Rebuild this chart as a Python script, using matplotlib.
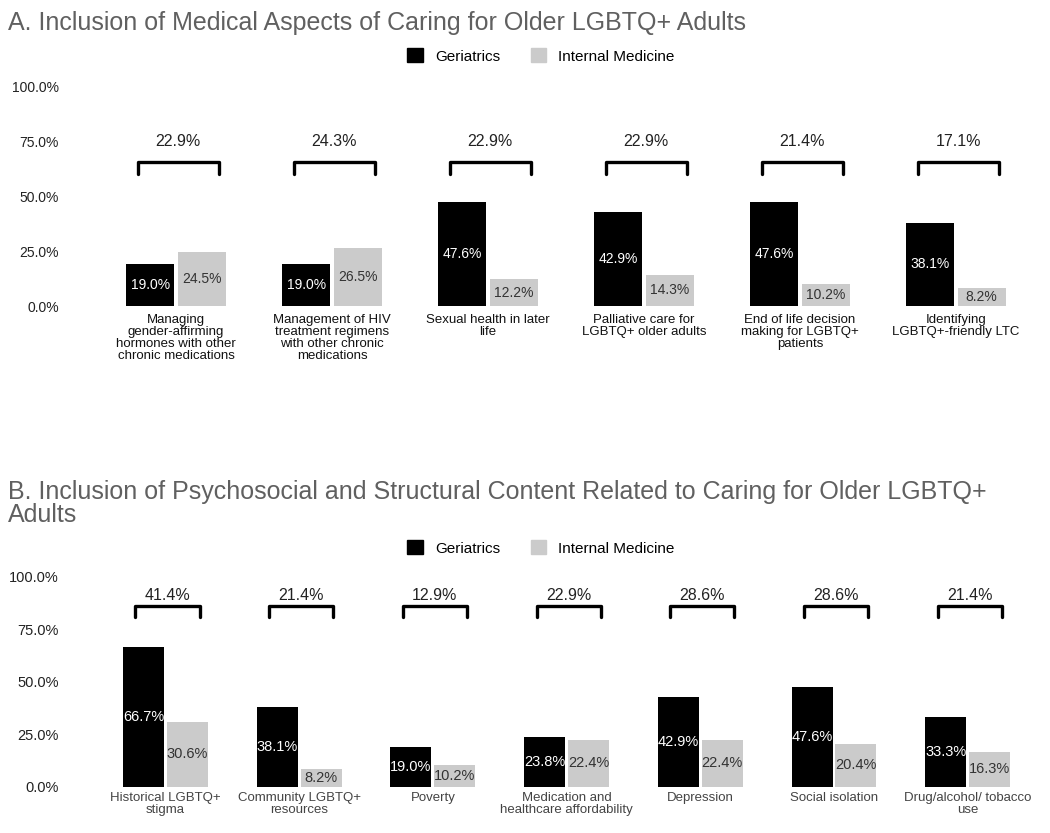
import matplotlib
matplotlib.use("Agg")
import matplotlib.pyplot as plt
from matplotlib.patches import Patch

plt.rcParams['font.family'] = ['Liberation Sans', 'DejaVu Sans']

# panel A data
cats_a = ["Managing\ngender-affirming\nhormones with other\nchronic medications",
          "Management of HIV\ntreatment regimens\nwith other chronic\nmedications",
          "Sexual health in later\nlife",
          "Palliative care for\nLGBTQ+ older adults",
          "End of life decision\nmaking for LGBTQ+\npatients",
          "Identifying\nLGBTQ+-friendly LTC"]
ger_a = [19.0, 19.0, 47.6, 42.9, 47.6, 38.1]
im_a = [24.5, 26.5, 12.2, 14.3, 10.2, 8.2]
tot_a = [22.9, 24.3, 22.9, 22.9, 21.4, 17.1]

# panel B data
cats_b = ["Historical LGBTQ+\nstigma", "Community LGBTQ+\nresources", "Poverty",
          "Medication and\nhealthcare affordability", "Depression",
          "Social isolation", "Drug/alcohol/ tobacco\nuse"]
ger_b = [66.7, 38.1, 19.0, 23.8, 42.9, 47.6, 33.3]
im_b = [30.6, 8.2, 10.2, 22.4, 22.4, 20.4, 16.3]
tot_b = [41.4, 21.4, 12.9, 22.9, 28.6, 28.6, 21.4]

yticks = [0, 25, 50, 75, 100]
BLACK = "#000000"
GRAY = "#cbcbcb"

W, H = 1050, 833
fig = plt.figure(figsize=(W / 100, H / 100), dpi=100)


def px_axes(left, right, bottom, top):
    return fig.add_axes([left / W, 1 - bottom / H, (right - left) / W, (bottom - top) / H])


def panel(ax, cats, ger, im, tot, x0px, step, bw, half_br, br_top, br_bot, lab_y,
          vfs, tick_fs, xfs, xcolor, xpad):
    left, right = 70, 1045
    ax.set_xlim((left - x0px) / step, (right - x0px) / step)
    ax.set_ylim(0, 100)
    x = list(range(len(cats)))
    off = (bw + 0.022) / 2
    xb = [i - off for i in x]
    xg = [i + off for i in x]
    ax.bar(xb, ger, width=bw, color=BLACK)
    ax.bar(xg, im, width=bw, color=GRAY)
    for i in x:
        ax.text(xb[i], ger[i] / 2, f"{ger[i]:.1f}%", ha="center", va="center",
                color="white", fontsize=vfs)
        ax.text(xg[i], im[i] / 2, f"{im[i]:.1f}%", ha="center", va="center",
                color="#333333", fontsize=vfs)
        c = i + 0.015
        ax.plot([c - half_br, c - half_br, c + half_br, c + half_br],
                [br_bot, br_top, br_top, br_bot], color="black", lw=2.4,
                solid_joinstyle="round", solid_capstyle="round")
        ax.text(c, lab_y, f"{tot[i]:.1f}%", ha="center", va="center",
                fontsize=11.5, color="#222222")
    ax.set_yticks(yticks)
    ax.set_yticklabels([f"{t:.1f}%" for t in yticks], fontsize=tick_fs, color="#222222")
    ax.set_xticks(x)
    ax.set_xticklabels(cats, fontsize=xfs, color=xcolor, linespacing=1.0, va="top")
    ax.tick_params(length=0)
    ax.tick_params(axis="x", pad=xpad)
    ax.tick_params(axis="y", pad=8)
    for s in ax.spines.values():
        s.set_visible(False)


handles = [Patch(color=BLACK, label="Geriatrics"), Patch(color=GRAY, label="Internal Medicine")]

# Panel A
fig.text(8 / W, 1 - 30 / H, "A. Inclusion of Medical Aspects of Caring for Older LGBTQ+ Adults",
         fontsize=18, color="#606060", va="baseline", ha="left")
fig.legend(handles=handles, loc="center", bbox_to_anchor=(541 / W, 1 - 56 / H), ncol=2,
           frameon=False, fontsize=11, handlelength=1.0, handleheight=1.0,
           columnspacing=2.0, handletextpad=0.8)
ax_a = px_axes(70, 1045, 306, 87)
panel(ax_a, cats_a, ger_a, im_a, tot_a, 176, 156, 0.308, 0.26, 65.9, 60.5, 75.0,
      10, 10, 9.5, "#111111", 6)

# Panel B (baseline of a multi-line text = last line)
fig.text(8 / W, 1 - 522 / H,
         "B. Inclusion of Psychosocial and Structural Content Related to Caring for Older LGBTQ+\nAdults",
         fontsize=18, color="#606060", va="baseline", ha="left", linespacing=0.97)
fig.legend(handles=handles, loc="center", bbox_to_anchor=(541 / W, 1 - 548 / H), ncol=2,
           frameon=False, fontsize=11, handlelength=1.0, handleheight=1.0,
           columnspacing=2.0, handletextpad=0.8)
ax_b = px_axes(70, 1045, 786.5, 577)
panel(ax_b, cats_b, ger_b, im_b, tot_b, 165.5, 133.7, 0.3067, 0.24, 86.0, 81.0, 91.4,
      10.5, 10.5, 9.5, "#444444", 4)

fig.savefig("out.png", dpi=100)
